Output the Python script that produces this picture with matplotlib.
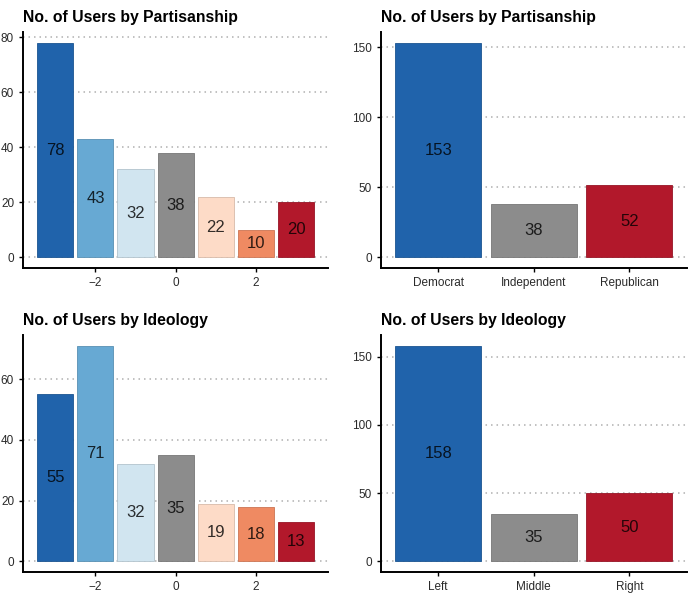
import matplotlib.pyplot as plt
from matplotlib.colors import to_rgb

plt.rcParams['font.family'] = ['Liberation Sans', 'DejaVu Sans']

# data
scale_x = [-3, -2, -1, 0, 1, 2, 3]
party_scale = [78, 43, 32, 38, 22, 10, 20]
ideo_scale = [55, 71, 32, 35, 19, 18, 13]
party_cats = ['Democrat', 'Independent', 'Republican']
party_counts = [153, 38, 52]
ideo_cats = ['Left', 'Middle', 'Right']
ideo_counts = [158, 35, 50]

scale_colors = ['#2063ab', '#67a9d3', '#d1e5f0', '#8c8c8c', '#fddbc7', '#ef8a62', '#b2182b']
cat_colors = ['#2063ab', '#8c8c8c', '#b2182b']


def darker(c, f=0.85):
    r, g, b = to_rgb(c)
    return (r * f, g * f, b * f)


def style(ax, title, yticks):
    ax.set_title(title, loc='left', fontsize=11.3, fontweight='bold', pad=7)
    ax.spines['top'].set_visible(False)
    ax.spines['right'].set_visible(False)
    ax.spines['left'].set_linewidth(1.4)
    ax.spines['bottom'].set_linewidth(1.4)
    ax.set_yticks(yticks)
    ax.tick_params(axis='both', labelsize=8.5, labelcolor='#2a2a2a', length=3, width=1)
    ax.yaxis.grid(True, linestyle=(0, (1, 2.6)), color='#b0b0b0', linewidth=1.1)
    ax.set_axisbelow(True)


def draw(ax, xs, vals, colors):
    bars = ax.bar(xs, vals, width=0.9, color=colors,
                  edgecolor=[darker(c) for c in colors], linewidth=0.6)
    for x, v in zip(xs, vals):
        ax.text(x, v / 2, str(v), ha='center', va='center', fontsize=12,
                color='#000000', alpha=0.8)
    return bars


fig = plt.figure(figsize=(7, 5.96), dpi=100)

# top-left
ax1 = fig.add_axes([0.033, 0.550, 0.436, 0.396])
draw(ax1, scale_x, party_scale, scale_colors)
style(ax1, 'No. of Users by Partisanship', [0, 20, 40, 60, 80])
ax1.set_xticks([-2, 0, 2])
ax1.set_xticklabels(['\u22122', '0', '2'])
ax1.set_xlim(-3.8, 3.8)
ax1.set_ylim(-3.9, 81.9)

# top-right
ax2 = fig.add_axes([0.544, 0.550, 0.437, 0.396])
draw(ax2, range(3), party_counts, cat_colors)
style(ax2, 'No. of Users by Partisanship', [0, 50, 100, 150])
ax2.set_xticks(range(3))
ax2.set_xticklabels(party_cats)
ax2.set_xlim(-0.6, 2.6)
ax2.set_ylim(-7.65, 160.65)

# bottom-left
ax3 = fig.add_axes([0.033, 0.040, 0.436, 0.398])
draw(ax3, scale_x, ideo_scale, scale_colors)
style(ax3, 'No. of Users by Ideology', [0, 20, 40, 60])
ax3.set_xticks([-2, 0, 2])
ax3.set_xticklabels(['\u22122', '0', '2'])
ax3.set_xlim(-3.8, 3.8)
ax3.set_ylim(-3.55, 74.55)

# bottom-right
ax4 = fig.add_axes([0.544, 0.040, 0.437, 0.398])
draw(ax4, range(3), ideo_counts, cat_colors)
style(ax4, 'No. of Users by Ideology', [0, 50, 100, 150])
ax4.set_xticks(range(3))
ax4.set_xticklabels(ideo_cats)
ax4.set_xlim(-0.6, 2.6)
ax4.set_ylim(-7.9, 165.9)

fig.savefig('out.png', dpi=100)
